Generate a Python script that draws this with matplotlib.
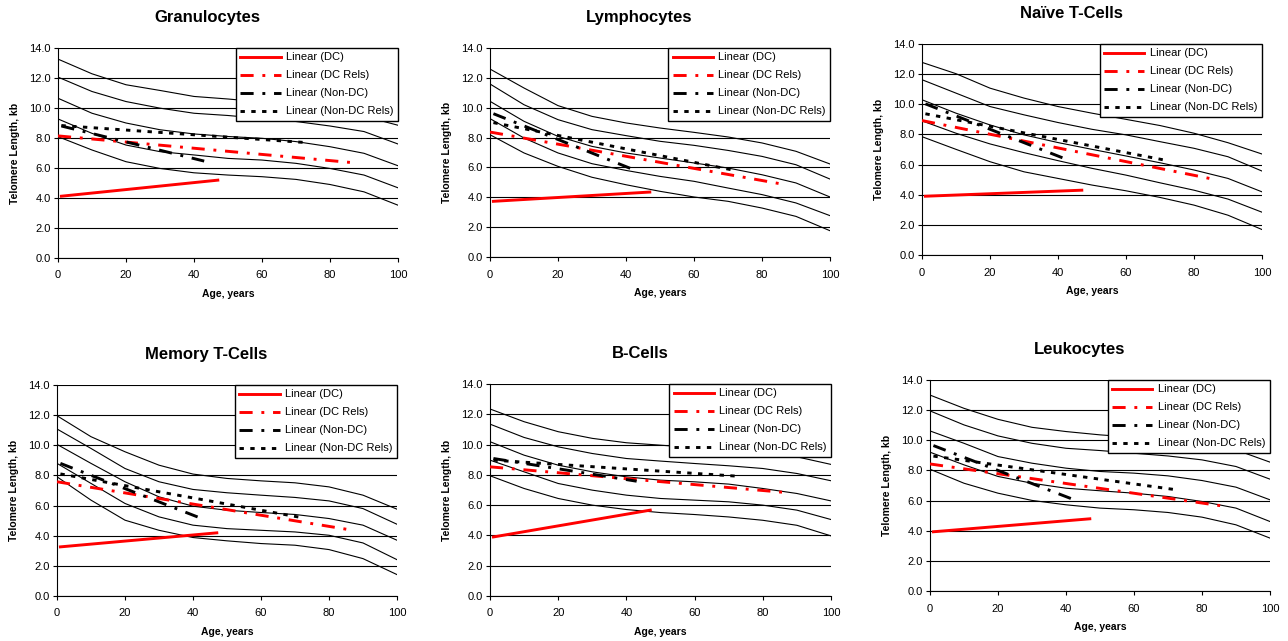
import matplotlib.pyplot as plt

plt.rcParams['font.family'] = ['Liberation Sans', 'DejaVu Sans']

ages = [0, 10, 20, 30, 40, 50, 60, 70, 80, 90, 100]

# percentile curves, top to bottom
granulocytes = [
    [13.26, 12.28, 11.55, 11.17, 10.77, 10.6, 10.4, 10.1, 9.8, 9.45, 8.85],
    [12.06, 11.1, 10.43, 9.99, 9.65, 9.5, 9.3, 9.1, 8.8, 8.43, 7.6],
    [10.65, 9.65, 9.0, 8.55, 8.27, 8.1, 7.98, 7.76, 7.42, 6.98, 6.15],
    [9.27, 8.31, 7.53, 7.09, 6.87, 6.64, 6.53, 6.31, 5.97, 5.53, 4.68],
    [8.09, 7.2, 6.42, 5.97, 5.68, 5.53, 5.42, 5.24, 4.9, 4.41, 3.52],
]
lymphocytes = [
    [12.59, 11.32, 10.14, 9.42, 8.98, 8.64, 8.35, 8.04, 7.64, 7.08, 6.23],
    [11.59, 10.2, 9.2, 8.53, 8.13, 7.75, 7.48, 7.14, 6.74, 6.18, 5.22],
    [10.43, 9.09, 8.08, 7.41, 6.97, 6.63, 6.3, 5.96, 5.51, 4.96, 4.02],
    [9.27, 7.97, 6.97, 6.25, 5.8, 5.4, 5.07, 4.62, 4.18, 3.62, 2.77],
    [8.19, 6.97, 6.07, 5.34, 4.84, 4.4, 4.02, 3.73, 3.28, 2.72, 1.76],
]
naive_t = [
    [12.78, 12.03, 11.07, 10.41, 9.85, 9.41, 9.0, 8.59, 8.08, 7.45, 6.7],
    [11.63, 10.74, 9.85, 9.3, 8.79, 8.34, 7.97, 7.52, 7.08, 6.52, 5.57],
    [10.3, 9.41, 8.63, 7.97, 7.46, 7.01, 6.57, 6.12, 5.64, 5.08, 4.19],
    [8.9, 8.08, 7.37, 6.79, 6.26, 5.75, 5.3, 4.79, 4.3, 3.71, 2.84],
    [7.85, 7.01, 6.19, 5.52, 5.08, 4.64, 4.26, 3.82, 3.31, 2.64, 1.69],
]
memory_t = [
    [11.96, 10.57, 9.57, 8.68, 8.09, 7.8, 7.64, 7.51, 7.24, 6.69, 5.76],
    [11.08, 9.79, 8.46, 7.58, 7.07, 6.85, 6.69, 6.54, 6.31, 5.8, 4.76],
    [10.06, 8.8, 7.58, 6.58, 5.96, 5.69, 5.54, 5.41, 5.14, 4.7, 3.7],
    [8.8, 7.47, 6.14, 5.25, 4.7, 4.47, 4.36, 4.25, 4.03, 3.52, 2.41],
    [7.91, 6.36, 5.03, 4.36, 3.88, 3.66, 3.48, 3.37, 3.08, 2.48, 1.42],
]
b_cells = [
    [12.35, 11.51, 10.85, 10.41, 10.12, 9.96, 9.8, 9.6, 9.4, 9.19, 8.69],
    [11.35, 10.47, 9.85, 9.41, 9.08, 8.91, 8.75, 8.6, 8.42, 8.09, 7.61],
    [10.19, 9.3, 8.64, 8.2, 7.87, 7.65, 7.54, 7.39, 7.1, 6.77, 6.28],
    [8.97, 8.2, 7.43, 6.99, 6.66, 6.44, 6.33, 6.22, 6.0, 5.67, 5.05],
    [7.94, 7.1, 6.44, 6.0, 5.71, 5.51, 5.38, 5.22, 5.0, 4.67, 3.97],
]
leukocytes = [
    [13.0, 12.12, 11.39, 10.86, 10.58, 10.36, 10.2, 10.0, 9.75, 9.36, 8.55],
    [11.95, 11.02, 10.29, 9.8, 9.47, 9.32, 9.14, 8.96, 8.7, 8.26, 7.42],
    [10.62, 9.8, 8.92, 8.48, 8.15, 7.93, 7.82, 7.64, 7.33, 6.89, 6.05],
    [9.21, 8.37, 7.6, 7.15, 6.82, 6.65, 6.49, 6.27, 5.94, 5.5, 4.61],
    [8.08, 7.15, 6.49, 6.01, 5.72, 5.5, 5.39, 5.21, 4.9, 4.39, 3.51],
]

# linear trends: (start, end) age ranges and values
trend_labels = ['Linear (DC)', 'Linear (DC Rels)', 'Linear (Non-DC)', 'Linear (Non-DC Rels)']
trend_ages = [(1, 47), (0, 87), (1, 43), (1, 72)]
gran_trend = [(4.12, 5.19), (8.14, 6.35), (8.8, 6.46), (8.83, 7.71)]
lymph_trend = [(3.73, 4.35), (8.37, 4.84), (9.6, 5.78), (9.0, 5.8)]
naive_trend = [(3.9, 4.3), (8.92, 4.97), (10.03, 6.3), (9.37, 6.27)]
memory_trend = [(3.26, 4.19), (7.58, 4.36), (8.8, 5.1), (8.1, 5.2)]
bcell_trend = [(3.9, 5.67), (8.53, 6.83), (9.08, 7.58), (8.97, 7.92)]
leuko_trend = [(3.93, 4.79), (8.43, 5.61), (9.65, 6.0), (8.95, 6.73)]

titles = ['Granulocytes', 'Lymphocytes', 'Naïve T-Cells',
          'Memory T-Cells', 'B-Cells', 'Leukocytes']
curves = [granulocytes, lymphocytes, naive_t, memory_t, b_cells, leukocytes]
trends = [gran_trend, lymph_trend, naive_trend, memory_trend, bcell_trend, leuko_trend]

# axes boxes in pixels: left, right, top, bottom
boxes = [(58, 398, 48, 258), (490, 830, 48, 257), (922, 1262, 44, 255),
         (57, 397, 385, 596), (490, 831, 384, 596), (930, 1270, 380, 591)]

W, H = 1288, 641
fig = plt.figure(figsize=(W / 100, H / 100), dpi=100)

styles = [
    dict(color='#ff0000', linestyle='-'),
    dict(color='#ff0000', dashes=(4.5, 3, 1, 3)),
    dict(color='black', dashes=(4.5, 3, 1, 3)),
    dict(color='black', dashes=(1.5, 2.2)),
]

for i in range(6):
    l, r, t, b = boxes[i]
    ax = fig.add_axes([l / W, 1 - b / H, (r - l) / W, (b - t) / H])
    for c in curves[i]:
        ax.plot(ages, c, color='black', lw=0.8, zorder=2)
    for k in range(4):
        a0, a1 = trend_ages[k]
        v0, v1 = trends[i][k]
        ax.plot([a0, a1], [v0, v1], lw=2.1, label=trend_labels[k], zorder=3, **styles[k])

    ax.set_xlim(0, 100)
    ax.set_ylim(0, 14)
    ax.set_xticks(range(0, 101, 20))
    ax.set_yticks(range(0, 15, 2))
    ax.set_yticklabels([f'{v:.1f}' for v in range(0, 15, 2)])
    ax.tick_params(labelsize=8, length=3, width=0.8, pad=2)
    ax.tick_params(axis='x', pad=6)
    ax.grid(axis='y', color='black', lw=0.8)
    ax.set_axisbelow(True)
    for s in ['top', 'right']:
        ax.spines[s].set_visible(False)
    ax.set_title(titles[i], fontsize=12, fontweight='bold', pad=19, x=0.44)
    ax.set_xlabel('Age, years', fontsize=7.5, fontweight='bold', labelpad=6)
    ax.set_ylabel('Telomere Length, kb', fontsize=7.5, fontweight='bold', labelpad=7)

    leg = ax.legend(loc='upper right', bbox_to_anchor=(1.0, 1.0), borderaxespad=0,
                    fontsize=8, handlelength=3.6, handletextpad=0.5, borderpad=0.4,
                    labelspacing=0.72, fancybox=False, framealpha=1)
    leg.get_frame().set_edgecolor('black')
    leg.get_frame().set_linewidth(1)
    leg.set_zorder(5)

fig.savefig('out.png', dpi=100)
